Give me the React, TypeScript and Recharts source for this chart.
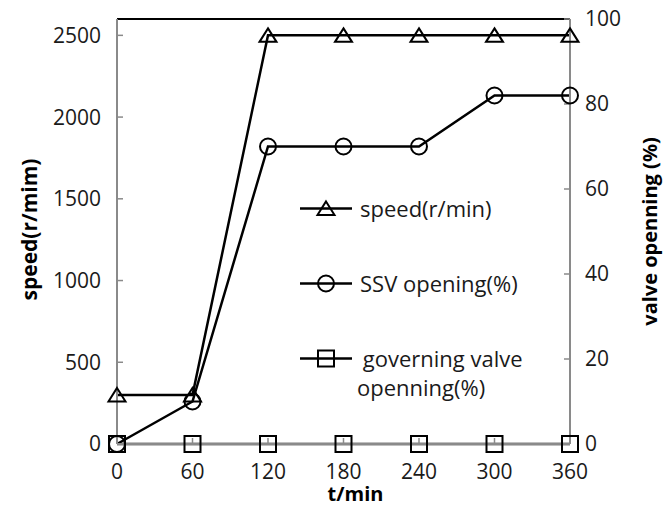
import React from 'react';
import { LineChart, Line, XAxis, YAxis, ReferenceLine, Legend, Label } from 'recharts';

const timeMin = [0, 60, 120, 180, 240, 300, 360];
const speedValues = [300, 300, 2500, 2500, 2500, 2500, 2500];
const ssvOpening = [0, 10, 70, 70, 70, 82, 82];
const governingOpening = [0, 0, 0, 0, 0, 0, 0];

const xTicks = [0, 60, 120, 180, 240, 300, 360];
const leftTicks = [0, 500, 1000, 1500, 2000, 2500];
const rightTicks = [0, 20, 40, 60, 80, 100];

const seriesOrder = ['speed', 'ssv', 'gov'];
const seriesNames = {
  speed: 'speed(r/min)',
  ssv: 'SSV opening(%)',
  gov: ' governing valve openning(%)',
};

const data = timeMin.map((t, i) => ({
  t,
  speed: speedValues[i],
  ssv: ssvOpening[i],
  gov: governingOpening[i],
}));

const FONT = '"Open Sans", "Noto Sans", sans-serif';
const AXIS_GRAY = '#8a8a8a';
const TEXT = '#1a1a1a';

const Triangle = (props: any) => {
  const { cx, cy, index } = props;
  if (cx == null || cy == null) return null;
  return (
    <path
      key={'tri-' + index}
      d={`M${cx},${cy - 7} L${cx + 8.5},${cy + 6.5} L${cx - 8.5},${cy + 6.5} Z`}
      fill="none"
      stroke="#000"
      strokeWidth={2}
    />
  );
};

const CircleDot = (props: any) => {
  const { cx, cy, index } = props;
  if (cx == null || cy == null) return null;
  return <circle key={'cir-' + index} cx={cx} cy={cy} r={8} fill="none" stroke="#000" strokeWidth={2} />;
};

const SquareDot = (props: any) => {
  const { cx, cy, index } = props;
  if (cx == null || cy == null) return null;
  return <rect key={'sq-' + index} x={cx - 8} y={cy - 8} width={16} height={16} fill="none" stroke="#000" strokeWidth={2} />;
};

const svgStyle = { display: 'block' };
const icons: Record<string, any> = {
  speed: (
    <svg width={54} height={29} style={svgStyle}>
      <line x1={0} y1={14.5} x2={52} y2={14.5} stroke="#000" strokeWidth={2.5} />
      <path d="M26,7.5 L34.5,21 L17.5,21 Z" fill="none" stroke="#000" strokeWidth={2} />
    </svg>
  ),
  ssv: (
    <svg width={54} height={29} style={svgStyle}>
      <line x1={0} y1={14.5} x2={52} y2={14.5} stroke="#000" strokeWidth={2.5} />
      <circle cx={26} cy={14.5} r={8} fill="none" stroke="#000" strokeWidth={2} />
    </svg>
  ),
  gov: (
    <svg width={54} height={29} style={svgStyle}>
      <line x1={0} y1={14.5} x2={52} y2={14.5} stroke="#000" strokeWidth={2.5} />
      <rect x={18} y={6.5} width={16} height={16} fill="none" stroke="#000" strokeWidth={2} />
    </svg>
  ),
};

const renderLegend = (props: any) => {
  const payload = [...(props.payload || [])].sort(
    (a: any, b: any) => seriesOrder.indexOf(a.dataKey) - seriesOrder.indexOf(b.dataKey)
  );
  return (
    <div style={{ display: 'flex', flexDirection: 'column', gap: 46, fontFamily: FONT, fontSize: 22, color: TEXT, lineHeight: '29px' }}>
      {payload.map((p: any) => (
        <div key={p.dataKey} style={{ display: 'flex', alignItems: 'flex-start' }}>
          <div style={{ width: 60, flex: '0 0 60px' }}>{icons[p.dataKey]}</div>
          <div style={{ width: 185, whiteSpace: 'pre-wrap', marginLeft: p.dataKey === 'gov' ? -3 : 0 }}>{p.value}</div>
        </div>
      ))}
    </div>
  );
};

export default function App() {
  return (
    <div style={{ position: 'absolute', left: 0, top: 0 }}>
      <LineChart width={663} height={506} data={data} margin={{ top: 19, right: 0, left: 0, bottom: 0 }}>
        <XAxis
          dataKey="t"
          type="number"
          domain={[0, 360]}
          ticks={xTicks}
          height={62}
          stroke={AXIS_GRAY}
          axisLine={{ stroke: AXIS_GRAY, strokeWidth: 2 }}
          tickLine={{ stroke: AXIS_GRAY, strokeWidth: 1.5 }}
          tickSize={-6}
          tickMargin={26}
          tick={{ fill: TEXT, fontSize: 21, fontFamily: FONT }}
          interval={0}
        >
          <Label
            content={(p: any) => {
              const vb = p.viewBox;
              return (
                <text x={vb.x + vb.width / 2 + 12} y={vb.y + 57} textAnchor="middle" fontFamily={FONT} fontSize={20} fontWeight="bold" fill="#000">
                  t/min
                </text>
              );
            }}
          />
        </XAxis>
        <YAxis
          yAxisId="left"
          orientation="left"
          width={117}
          domain={[0, 2600]}
          ticks={leftTicks}
          interval={0}
          axisLine={{ stroke: AXIS_GRAY, strokeWidth: 2 }}
          tickLine={{ stroke: AXIS_GRAY, strokeWidth: 1.5 }}
          tickSize={-6}
          tickMargin={22}
          tick={{ fill: TEXT, fontSize: 21, fontFamily: FONT }}
        >
          <Label
            content={(p: any) => {
              const vb = p.viewBox;
              const cx = vb.x + 29;
              const cy = vb.y + vb.height / 2 - 2;
              return (
                <text x={cx} y={cy} transform={`rotate(-90 ${cx} ${cy})`} textAnchor="middle" dominantBaseline="central" fontFamily={FONT} fontSize={21} fontWeight="bold" fill="#000">
                  speed(r/mim)
                </text>
              );
            }}
          />
        </YAxis>
        <YAxis
          yAxisId="right"
          orientation="right"
          width={93}
          domain={[0, 100]}
          ticks={rightTicks}
          interval={0}
          axisLine={{ stroke: AXIS_GRAY, strokeWidth: 2 }}
          tickLine={{ stroke: AXIS_GRAY, strokeWidth: 1.5 }}
          tickSize={-6}
          tickMargin={21}
          tick={{ fill: TEXT, fontSize: 21, fontFamily: FONT, textAnchor: 'start' }}
        >
          <Label
            content={(p: any) => {
              const vb = p.viewBox;
              const cx = vb.x + 79;
              const cy = vb.y + vb.height / 2;
              return (
                <text x={cx} y={cy} transform={`rotate(-90 ${cx} ${cy})`} textAnchor="middle" dominantBaseline="central" fontFamily={FONT} fontSize={20} fontWeight="bold" fill="#000">
                  valve openning (%)
                </text>
              );
            }}
          />
        </YAxis>
        <ReferenceLine yAxisId="left" y={2600} stroke="#000" strokeWidth={2} ifOverflow="visible" />
        <Line
          yAxisId="left"
          dataKey="speed"
          name={seriesNames.speed}
          stroke="#000"
          strokeWidth={2.5}
          dot={Triangle}
          isAnimationActive={false}
        />
        <Line
          yAxisId="right"
          dataKey="ssv"
          name={seriesNames.ssv}
          stroke="#000"
          strokeWidth={2.5}
          dot={CircleDot}
          isAnimationActive={false}
        />
        <Line
          yAxisId="right"
          dataKey="gov"
          name={seriesNames.gov}
          stroke="#000"
          strokeWidth={2.5}
          dot={SquareDot}
          isAnimationActive={false}
        />
        <Legend
          layout="vertical"
          align="center"
          verticalAlign="middle"
          content={renderLegend}
          wrapperStyle={{ left: 300, top: 194, width: 260 }}
        />
      </LineChart>
    </div>
  );
}
